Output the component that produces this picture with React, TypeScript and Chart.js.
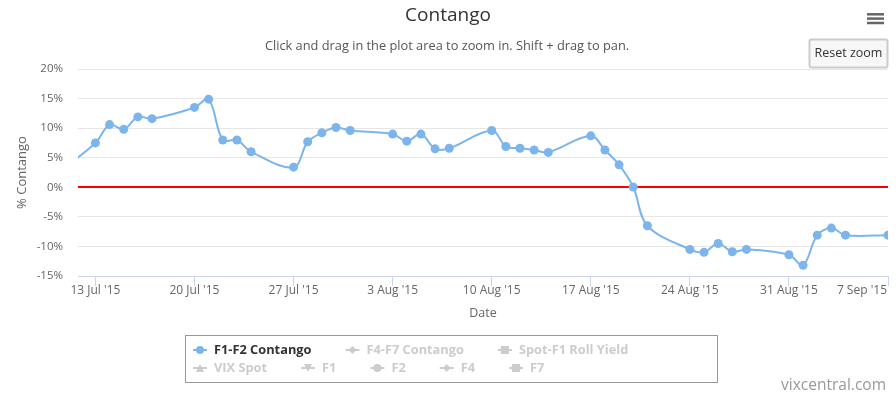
import React, { useEffect, useRef } from "react";
import { Chart, registerables } from "chart.js";

Chart.register(...registerables);

const FONT = '"Lucida Grande", "Lucida Sans Unicode", "Open Sans", Arial, sans-serif';

// ---- data ----
const BASE_DATE = "2015-07-13";
const tradeDates = [
  "2015-07-10", "2015-07-13", "2015-07-14", "2015-07-15", "2015-07-16", "2015-07-17",
  "2015-07-20", "2015-07-21", "2015-07-22", "2015-07-23", "2015-07-24",
  "2015-07-27", "2015-07-28", "2015-07-29", "2015-07-30", "2015-07-31",
  "2015-08-03", "2015-08-04", "2015-08-05", "2015-08-06", "2015-08-07",
  "2015-08-10", "2015-08-11", "2015-08-12", "2015-08-13", "2015-08-14",
  "2015-08-17", "2015-08-18", "2015-08-19", "2015-08-20", "2015-08-21",
  "2015-08-24", "2015-08-25", "2015-08-26", "2015-08-27", "2015-08-28",
  "2015-08-31", "2015-09-01", "2015-09-02", "2015-09-03", "2015-09-04",
  "2015-09-07",
];
const f1f2Contango = [
  1.8, 7.5, 10.6, 9.8, 11.9, 11.6,
  13.5, 14.9, 8.0, 8.0, 6.0,
  3.4, 7.7, 9.2, 10.1, 9.6,
  9.0, 7.8, 9.0, 6.5, 6.6,
  9.6, 6.9, 6.6, 6.3, 5.9,
  8.7, 6.3, 3.8, 0.05, -6.5,
  -10.5, -11.0, -9.5, -10.9, -10.5,
  -11.4, -13.2, -8.1, -6.9, -8.1,
  -8.1,
];
const xTickDates = [
  "2015-07-13", "2015-07-20", "2015-07-27", "2015-08-03", "2015-08-10",
  "2015-08-17", "2015-08-24", "2015-08-31", "2015-09-07",
];
const xTickLabels = [
  "13 Jul '15", "20 Jul '15", "27 Jul '15", "3 Aug '15", "10 Aug '15",
  "17 Aug '15", "24 Aug '15", "31 Aug '15", "7 Sep '15",
];
const xMinDate = "2015-07-11T18:30:00Z";
const xMaxDate = "2015-09-07";
const yMin = -15;
const yMax = 20;
const yStep = 5;

const legendNames = [
  "F1-F2 Contango", "F4-F7 Contango", "Spot-F1 Roll Yield",
  "VIX Spot", "F1", "F2", "F4", "F7",
];
const legendSymbols = [
  "circle", "diamond", "square", "triangle", "triangleDown", "circle", "diamond", "square",
];
const legendActive = [true, false, false, false, false, false, false, false];
const legendRows = [3, 5];

const dayOf = (s: string) => {
  const d = s.length === 10 ? new Date(s + "T00:00:00Z") : new Date(s);
  const b = new Date(BASE_DATE + "T00:00:00Z");
  return (d.getTime() - b.getTime()) / 86400000;
};

function drawMarker(ctx: CanvasRenderingContext2D, kind: string, x: number, y: number, r: number) {
  ctx.beginPath();
  if (kind === "circle") {
    ctx.arc(x, y, r, 0, Math.PI * 2);
  } else if (kind === "diamond") {
    ctx.moveTo(x, y - r); ctx.lineTo(x + r, y); ctx.lineTo(x, y + r); ctx.lineTo(x - r, y);
    ctx.closePath();
  } else if (kind === "square") {
    ctx.rect(x - r, y - r, 2 * r, 2 * r);
  } else if (kind === "triangle") {
    ctx.moveTo(x, y - r); ctx.lineTo(x + r, y + r); ctx.lineTo(x - r, y + r);
    ctx.closePath();
  } else {
    ctx.moveTo(x - r, y - r); ctx.lineTo(x + r, y - r); ctx.lineTo(x, y + r);
    ctx.closePath();
  }
  ctx.fill();
}

const decorPlugin = {
  id: "decor",
  afterDraw(chart: any) {
    const ctx: CanvasRenderingContext2D = chart.ctx;
    const area = chart.chartArea;
    const xs = chart.scales.x;
    ctx.save();

    // title & subtitle
    ctx.textAlign = "center";
    ctx.textBaseline = "middle";
    ctx.fillStyle = "#333333";
    ctx.font = `19px ${FONT}`;
    ctx.fillText("Contango", 448, 16);
    ctx.fillStyle = "#555555";
    ctx.font = `12.8px ${FONT}`;
    ctx.fillText("Click and drag in the plot area to zoom in. Shift + drag to pan.", 447, 46.5);

    // x tick labels
    ctx.font = `12px ${FONT}`;
    ctx.fillStyle = "#666666";
    xTickDates.forEach((d, i) => {
      const px = xs.getPixelForValue(dayOf(d));
      const label = xTickLabels[i];
      const w = ctx.measureText(label).width;
      if (px + w / 2 > area.right) {
        ctx.textAlign = "right";
        ctx.fillText(label, area.right - 1, 291);
      } else {
        ctx.textAlign = "center";
        ctx.fillText(label, px, 291);
      }
    });

    // x axis title
    ctx.textAlign = "center";
    ctx.font = `12.5px ${FONT}`;
    ctx.fillText("Date", (area.left + area.right) / 2, 313);

    // legend box
    ctx.strokeStyle = "#999999";
    ctx.lineWidth = 1;
    ctx.strokeRect(185.5, 335.5, 532, 47);

    ctx.font = `bold 12.8px ${FONT}`;
    ctx.textAlign = "left";
    let idx = 0;
    const rowY = [350, 368];
    legendRows.forEach((count, r) => {
      let x = 193;
      const y = rowY[r];
      for (let k = 0; k < count; k++, idx++) {
        const col = legendActive[idx] ? "#7cb5ec" : "#cccccc";
        ctx.strokeStyle = col;
        ctx.lineWidth = 2;
        ctx.beginPath();
        ctx.moveTo(x, y);
        ctx.lineTo(x + 14, y);
        ctx.stroke();
        ctx.fillStyle = col;
        drawMarker(ctx, legendSymbols[idx], x + 7, y, 4);
        ctx.fillStyle = legendActive[idx] ? "#333333" : "#cccccc";
        ctx.fillText(legendNames[idx], x + 21, y);
        x += 21 + ctx.measureText(legendNames[idx]).width + 34;
      }
    });

    // credit
    ctx.font = `15.5px ${FONT}`;
    ctx.fillStyle = "#999999";
    ctx.textAlign = "right";
    ctx.fillText("vixcentral.com", 886, 386);

    // reset zoom button
    ctx.beginPath();
    const bx = 809.5, by = 39.5, bw = 78, bh = 28, rr = 2;
    ctx.moveTo(bx + rr, by);
    ctx.lineTo(bx + bw - rr, by);
    ctx.quadraticCurveTo(bx + bw, by, bx + bw, by + rr);
    ctx.lineTo(bx + bw, by + bh - rr);
    ctx.quadraticCurveTo(bx + bw, by + bh, bx + bw - rr, by + bh);
    ctx.lineTo(bx + rr, by + bh);
    ctx.quadraticCurveTo(bx, by + bh, bx, by + bh - rr);
    ctx.lineTo(bx, by + rr);
    ctx.quadraticCurveTo(bx, by, bx + rr, by);
    ctx.closePath();
    ctx.fillStyle = "#f7f7f7";
    ctx.fill();
    ctx.strokeStyle = "#cccccc";
    ctx.stroke();
    ctx.fillStyle = "#333333";
    ctx.font = `12.5px ${FONT}`;
    ctx.textAlign = "center";
    ctx.fillText("Reset zoom", bx + bw / 2, by + bh / 2);

    // menu icon
    ctx.strokeStyle = "#666666";
    ctx.lineWidth = 2.5;
    [14.3, 18.6, 23].forEach((yy) => {
      ctx.beginPath();
      ctx.moveTo(867, yy);
      ctx.lineTo(884, yy);
      ctx.stroke();
    });

    ctx.restore();
  },
};

export default function App() {
  const ref = useRef<HTMLCanvasElement | null>(null);

  useEffect(() => {
    if (!ref.current) return;
    Chart.defaults.font.family = FONT;
    const points = tradeDates.map((d, i) => ({ x: dayOf(d), y: f1f2Contango[i] }));
    const chart = new Chart(ref.current, {
      type: "line",
      data: {
        datasets: [
          {
            label: "F1-F2 Contango",
            data: points,
            borderColor: "#7cb5ec",
            backgroundColor: "#7cb5ec",
            borderWidth: 2,
            pointRadius: 4.5,
            pointBorderWidth: 0,
            pointBackgroundColor: "#7cb5ec",
            tension: 0.35,
            fill: false,
          },
        ],
      },
      options: {
        animation: false,
        responsive: false,
        maintainAspectRatio: false,
        layout: { padding: { top: 69, right: 8, bottom: 75, left: 0 } },
        plugins: {
          legend: { display: false },
          tooltip: { enabled: false },
          title: { display: false },
        },
        scales: {
          x: {
            type: "linear",
            min: dayOf(xMinDate),
            max: dayOf(xMaxDate),
            afterFit: (s: any) => {
              s.height = 46;
              s.paddingLeft = 0;
              s.paddingRight = 0;
            },
            afterBuildTicks: (s: any) => {
              s.ticks = xTickDates.map((d) => ({ value: dayOf(d) }));
            },
            ticks: { display: false },
            grid: {
              drawOnChartArea: false,
              drawTicks: true,
              tickLength: 10,
              color: "#ccd6eb",
              lineWidth: 1,
            },
            border: { display: true, color: "#ccd6eb", width: 1 },
          },
          y: {
            min: yMin,
            max: yMax,
            afterFit: (s: any) => {
              s.width = 78;
            },
            ticks: {
              stepSize: yStep,
              color: "#666666",
              font: { size: 11.5, family: FONT },
              padding: 15,
              callback: (v: any) => `${v}%`,
            },
            grid: {
              drawTicks: false,
              color: (c: any) =>
                c.tick && c.tick.value === 0 ? "#ff0000" : c.tick && c.tick.value === yMin ? "rgba(0,0,0,0)" : "#e6e6e6",
              lineWidth: (c: any) => (c.tick && c.tick.value === 0 ? 2 : 1),
            },
            border: { display: false },
            title: {
              display: true,
              text: "% Contango",
              color: "#666666",
              font: { size: 13, family: FONT },
              padding: { top: 14, bottom: 0 },
            },
          },
        },
      },
      plugins: [decorPlugin],
    });
    return () => chart.destroy();
  }, []);

  return (
    <div style={{ position: "fixed", left: 0, top: 0, width: 896, height: 397, background: "#fff" }}>
      <canvas ref={ref} width={896} height={397} style={{ display: "block" }} />
    </div>
  );
}
